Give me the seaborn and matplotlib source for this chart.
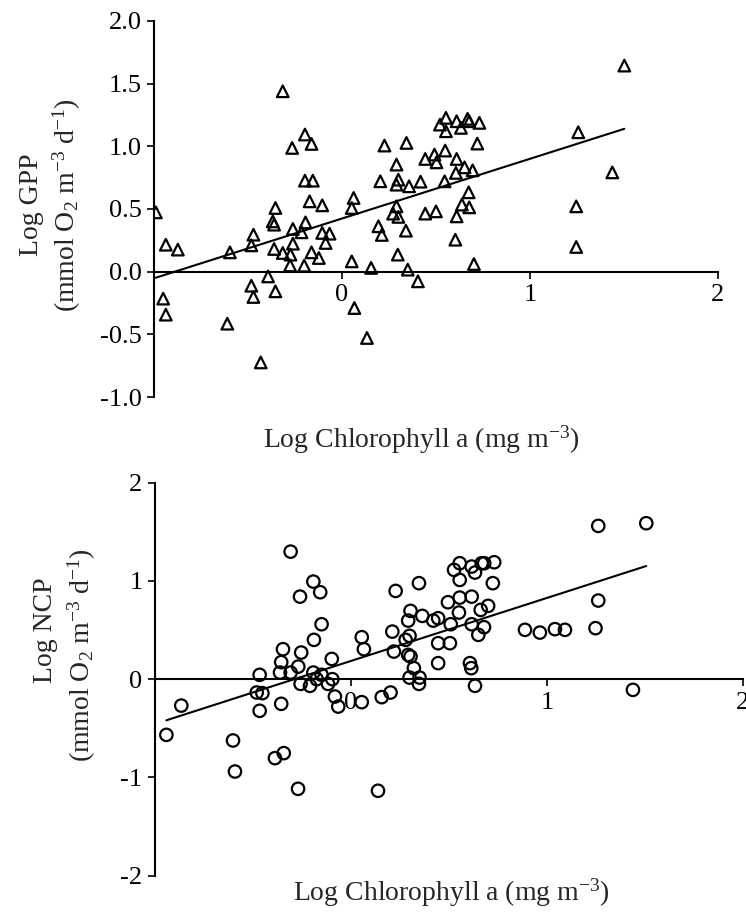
import matplotlib
matplotlib.use("Agg")
import matplotlib.pyplot as plt
import seaborn as sns
import numpy as np

# GPP panel (triangles)
gpp_chl = [-0.315, -0.197, -0.162, -0.265, -0.197, -0.155, -0.172, -0.105, -0.990, -0.354,
           -0.368, -0.361, -0.194, -0.261, -0.215, -0.105, -0.066, -0.087, -0.471, -0.482,
           -0.937, -0.873, -0.596, -0.361, -0.261, -0.315, -0.274, -0.162, -0.123, -0.276,
           -0.201, -0.393, -0.482, -0.471, -0.354, -0.951, -0.937, -0.610, -0.432,
           0.553, 0.521, 0.553, 0.610, 0.633, 0.668, 0.677, 0.731, 0.226, 0.343,
           0.720, 0.290, 0.443, 0.492, 0.503, 0.549, 0.610, 0.606, 0.652, 0.695,
           0.204, 0.300, 0.290, 0.357, 0.418, 0.546, 0.062, 0.052, 0.290, 0.272,
           0.300, 0.443, 0.500, 0.674, 0.638, 0.677, 0.610, 0.194, 0.212, 0.340,
           0.603, 0.297, 0.052, 0.155, 0.350, 0.702, 0.404, 0.066, 0.133,
           1.502, 1.257, 1.438, 1.246, 1.246]
gpp_val = [1.439, 1.094, 1.019, 0.987, 0.726, 0.726, 0.561, 0.529, 0.473, 0.508,
           0.401, 0.375, 0.393, 0.341, 0.314, 0.309, 0.303, 0.229, 0.295, 0.210,
           0.215, 0.176, 0.154, 0.181, 0.223, 0.149, 0.136, 0.154, 0.109, 0.050,
           0.048, -0.038, -0.112, -0.202, -0.157, -0.215, -0.343, -0.415, -0.724,
           1.227, 1.173, 1.120, 1.200, 1.147, 1.219, 1.200, 1.187, 1.006, 1.027,
           1.022, 0.854, 0.899, 0.934, 0.872, 0.966, 0.899, 0.788, 0.832, 0.808,
           0.721, 0.734, 0.694, 0.681, 0.718, 0.721, 0.588, 0.508, 0.521, 0.463,
           0.437, 0.463, 0.481, 0.633, 0.535, 0.513, 0.441, 0.362, 0.293, 0.327,
           0.255, 0.136, 0.082, 0.030, 0.016, 0.061, -0.077, -0.290, -0.529,
           1.644, 1.112, 0.792, 0.521, 0.197]

# NCP panel (circles)
ncp_chl = [-0.308, -0.192, -0.157, -0.260, -0.150, -0.189, -0.347, -0.254, -0.098, -0.356,
           -0.269, -0.466, -0.362, -0.308, -0.192, -0.150, -0.175, -0.095, -0.257, -0.209,
           -0.117, -0.082, -0.065, -0.481, -0.452, -0.866, -0.466, -0.356, -0.942, -0.602,
           -0.388, -0.343, -0.592, -0.270, 0.138,
           0.555, 0.526, 0.555, 0.616, 0.633, 0.667, 0.680, 0.731, 0.724, 0.228,
           0.347, 0.495, 0.555, 0.616, 0.304, 0.364, 0.292, 0.420, 0.445, 0.509,
           0.551, 0.662, 0.700, 0.616, 0.679, 0.650, 0.211, 0.055, 0.066, 0.219,
           0.279, 0.299, 0.445, 0.505, 0.292, 0.304, 0.321, 0.445, 0.607, 0.614,
           0.299, 0.350, 0.347, 0.633, 0.157, 0.202, 0.055,
           1.262, 1.507, 1.262, 0.888, 0.964, 1.041, 1.092, 1.248, 1.439]
ncp_val = [1.298, 0.993, 0.885, 0.840, 0.559, 0.400, 0.305, 0.271, 0.206, 0.173,
           0.128, 0.044, 0.067, 0.067, 0.067, 0.044, 0.000, 0.000, -0.048, -0.068,
           -0.048, -0.177, -0.279, -0.136, -0.142, -0.269, -0.322, -0.251, -0.567, -0.624,
           -0.804, -0.753, -0.940, -1.116, -1.136,
           1.180, 1.112, 1.010, 1.146, 1.085, 1.180, 1.180, 1.190, 0.977, 0.898,
           0.977, 0.783, 0.830, 0.840, 0.695, 0.644, 0.596, 0.596, 0.620, 0.559,
           0.678, 0.705, 0.746, 0.559, 0.529, 0.451, 0.484, 0.427, 0.305, 0.281,
           0.400, 0.441, 0.366, 0.366, 0.247, 0.230, 0.112, 0.163, 0.163, 0.112,
           0.016, 0.016, -0.048, -0.068, -0.183, -0.136, -0.234,
           1.560, 1.587, 0.800, 0.502, 0.474, 0.509, 0.502, 0.519, -0.109]

xlabel = "Log Chlorophyll a (mg m$^{-3}$)"
ylabel_gpp = ["Log GPP", "(mmol O$_2$ m$^{-3}$ d$^{-1}$)"]
ylabel_ncp = ["Log NCP", "(mmol O$_2$ m$^{-3}$ d$^{-1}$)"]

sns.set_style("ticks")
plt.rcParams["font.family"] = ["Liberation Serif", "DejaVu Serif"]
plt.rcParams["mathtext.default"] = "regular"

fig = plt.figure(figsize=(7.46, 9.15), dpi=100)
ax1 = fig.add_axes([0.2064, 0.5661, 0.756, 0.411])
ax2 = fig.add_axes([0.2078, 0.0430, 0.788, 0.4295])


def style_axis(ax, yticks, yfmt):
    ax.set_xlim(-1, 2)
    ax.set_ylim(yticks[0], yticks[-1])
    ax.spines["right"].set_visible(False)
    ax.spines["top"].set_visible(False)
    ax.spines["bottom"].set_position(("data", 0))
    for s in ("left", "bottom"):
        ax.spines[s].set_linewidth(1.5)
        ax.spines[s].set_color("black")
    ax.set_xticks([0, 1, 2])
    ax.set_xticklabels(["0", "1", "2"])
    ax.set_yticks(yticks)
    ax.set_yticklabels([yfmt.format(v) for v in yticks])
    ax.tick_params(direction="out", length=5, width=1.2, labelsize=19,
                   colors="black", pad=4)
    ax.set_xlabel("")
    ax.set_ylabel("")


# top: GPP
sns.scatterplot(x=gpp_chl, y=gpp_val, ax=ax1, marker="^", s=70,
                facecolor="none", edgecolor="black", linewidth=1.6)
sns.regplot(x=np.array(gpp_chl), y=np.array(gpp_val), ax=ax1, scatter=False,
            ci=None, color="black", line_kws=dict(lw=1.5))
style_axis(ax1, [-1.0, -0.5, 0.0, 0.5, 1.0, 1.5, 2.0], "{:.1f}")

# bottom: NCP
sns.scatterplot(x=ncp_chl, y=ncp_val, ax=ax2, marker="o", s=80,
                facecolor="none", edgecolor="black", linewidth=1.6)
sns.regplot(x=np.array(ncp_chl), y=np.array(ncp_val), ax=ax2, scatter=False,
            ci=None, color="black", line_kws=dict(lw=1.5))
style_axis(ax2, [-2, -1, 0, 1, 2], "{:d}")

# axis labels
fig.text(421 / 746, 1 - 440 / 915, xlabel, ha="center", va="center", fontsize=20)
fig.text(451 / 746, 1 - 893 / 915, xlabel, ha="center", va="center", fontsize=20)
fig.text(31 / 746, 1 - 205 / 915, ylabel_gpp[0], rotation=90, ha="center", va="center", fontsize=20)
fig.text(67 / 746, 1 - 205 / 915, ylabel_gpp[1], rotation=90, ha="center", va="center", fontsize=20)
fig.text(45 / 746, 1 - 630 / 915, ylabel_ncp[0], rotation=90, ha="center", va="center", fontsize=20)
fig.text(82 / 746, 1 - 655 / 915, ylabel_ncp[1], rotation=90, ha="center", va="center", fontsize=20)

fig.savefig("out.png", dpi=100, facecolor="white")
